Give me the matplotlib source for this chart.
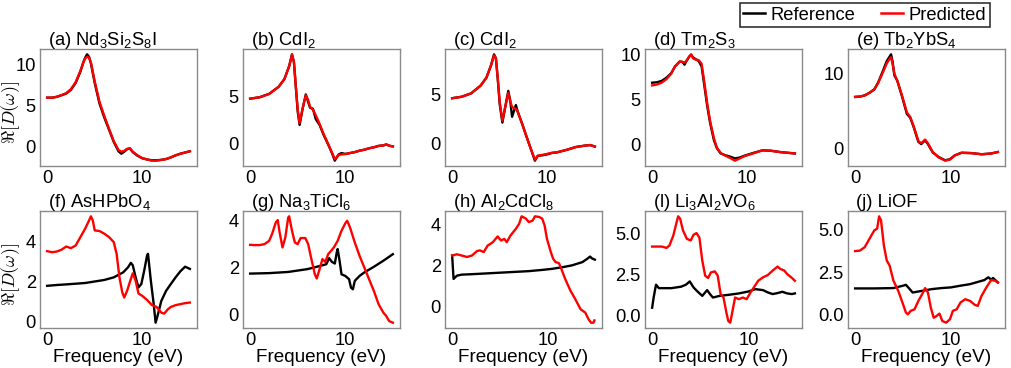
import matplotlib
matplotlib.use("Agg")
import matplotlib.pyplot as plt
from matplotlib.lines import Line2D

plt.rcParams["font.family"] = ["Liberation Sans", "DejaVu Sans"]
plt.rcParams["mathtext.fontset"] = "custom"
plt.rcParams["mathtext.rm"] = "Liberation Sans"
plt.rcParams["mathtext.it"] = "Liberation Sans:italic"
plt.rcParams["mathtext.bf"] = "Liberation Sans:bold"

# ---------------- data ----------------
TITLES = [r"(a) Nd$_3$Si$_2$S$_8$I", r"(b) CdI$_2$", r"(c) CdI$_2$", r"(d) Tm$_2$S$_3$",
          r"(e) Tb$_2$YbS$_4$", r"(f) AsHPbO$_4$", r"(g) Na$_3$TiCl$_6$", r"(h) Al$_2$CdCl$_8$",
          r"(l) Li$_3$Al$_2$VO$_6$", r"(j) LiOF"]
XTICKS = [0, 10]
YTICKS = [[0, 5, 10], [0, 5], [0, 5], [0, 5, 10], [0, 10],
          [0, 2, 4], [0, 2, 4], [0, 2, 4], [0.0, 2.5, 5.0], [0.0, 2.5, 5.0]]
YTICKLABELS = [["0", "5", "10"], ["0", "5"], ["0", "5"], ["0", "5", "10"], ["0", "10"],
               ["0", "2", "4"], ["0", "2", "4"], ["0", "2", "4"],
               ["0.0", "2.5", "5.0"], ["0.0", "2.5", "5.0"]]

A_X = [0, 0.5, 1, 1.5, 2, 2.5, 3, 3.5, 3.8, 4.0, 4.2, 4.4, 4.6, 5.0, 5.5, 6.0, 6.5, 7.0, 7.5, 7.8,
       8.1, 8.4, 8.7, 9.0, 9.5, 10, 10.5, 11, 11.5, 12, 12.5, 13, 13.5, 14, 14.5, 15]
A_REF = [6.0, 6.0, 6.1, 6.3, 6.5, 6.95, 7.8, 9.2, 10.3, 10.9, 11.3, 11.0, 10.2, 7.8, 5.3, 3.6, 2.1,
         0.6, -0.55, -0.85, -0.6, -0.3, -0.2, -0.65, -1.1, -1.4, -1.55, -1.65, -1.65, -1.6, -1.5,
         -1.3, -1.05, -0.85, -0.7, -0.55]
A_PRED = [6.0, 6.0, 6.1, 6.3, 6.55, 7.05, 7.9, 9.3, 10.3, 10.8, 11.0, 10.9, 10.3, 8.0, 5.5, 3.8,
          2.2, 0.7, -0.4, -0.6, -0.5, -0.25, -0.2, -0.6, -1.05, -1.4, -1.55, -1.7, -1.7, -1.6,
          -1.5, -1.3, -1.05, -0.85, -0.7, -0.55]

B_X = [0, 1, 2, 3, 3.6, 4.1, 4.4, 4.6, 4.8, 5.0, 5.2, 5.5, 5.85, 6.1, 6.3, 6.6, 6.9, 7.3, 7.7,
       8.2, 8.6, 8.9, 9.1, 9.3, 9.6, 10, 10.5, 11, 11.5, 12, 12.5, 13, 13.5, 14, 14.3, 14.7, 15]
B_REF = [4.75, 4.9, 5.25, 6.0, 6.8, 8.15, 9.4, 8.6, 6.0, 3.4, 2.0, 3.6, 5.2, 4.4, 3.8, 3.7, 2.6,
         2.0, 1.0, -0.05, -0.95, -1.75, -1.4, -1.1, -0.95, -1.05, -0.95, -0.85, -0.7, -0.6,
         -0.45, -0.35, -0.2, -0.15, -0.05, -0.2, -0.25]
B_PRED = [4.75, 4.9, 5.25, 6.0, 6.8, 8.15, 9.35, 8.6, 6.1, 3.6, 2.2, 3.7, 5.1, 4.6, 3.9, 3.6,
          3.0, 2.1, 1.1, 0.0, -0.9, -1.6, -1.4, -1.15, -1.1, -1.05, -0.95, -0.85, -0.7, -0.6,
          -0.45, -0.35, -0.2, -0.15, -0.05, -0.2, -0.25]

C_X = [0, 1, 2, 3, 3.6, 4.1, 4.4, 4.6, 4.8, 5.0, 5.28, 5.6, 5.9, 6.1, 6.3, 6.5, 6.7, 6.9, 7.35,
       7.7, 8.2, 8.7, 9.0, 9.5, 10, 10.5, 11, 12, 13, 14, 14.5, 15]
C_REF = [4.6, 4.75, 5.1, 5.9, 6.7, 8.0, 9.1, 8.7, 6.5, 4.0, 2.1, 3.8, 5.35, 4.4, 2.7, 3.3, 3.9,
         3.2, 2.0, 1.0, -0.4, -1.8, -1.3, -1.25, -1.15, -1.0, -0.95, -0.7, -0.4, -0.25, -0.2,
         -0.35]
C_PRED = [4.6, 4.75, 5.1, 5.9, 6.7, 8.0, 9.0, 8.7, 6.6, 4.2, 2.3, 3.8, 5.15, 4.3, 3.7, 3.6, 3.5,
          3.2, 2.0, 1.0, -0.4, -1.7, -1.3, -1.2, -1.1, -1.0, -0.95, -0.7, -0.4, -0.25, -0.2,
          -0.35]

D_X = [0, 0.5, 1.0, 1.5, 2.0, 2.4, 2.9, 3.2, 3.4, 3.6, 3.9, 4.1, 4.3, 4.6, 4.9, 5.2, 5.45, 5.8,
       6.1, 6.5, 6.8, 7.2, 7.7, 8.2, 8.7, 9.2, 9.7, 10.6, 11.6, 12.5, 13.5, 14.5, 15]
D_REF = [6.9, 6.95, 7.1, 7.45, 7.95, 8.7, 9.25, 9.2, 8.9, 9.3, 9.8, 10.0, 9.7, 9.5, 9.3, 8.7,
         6.85, 4.25, 2.4, 0.5, -0.35, -0.95, -1.15, -1.3, -1.5, -1.4, -1.2, -0.9, -0.6, -0.65,
         -0.8, -0.9, -0.95]
D_PRED = [6.6, 6.7, 6.9, 7.3, 7.9, 8.7, 9.25, 9.2, 9.15, 9.3, 9.8, 10.05, 9.6, 9.45, 9.4, 9.0,
          7.2, 4.5, 2.6, 0.7, -0.3, -0.9, -1.2, -1.45, -1.75, -1.5, -1.25, -0.95, -0.6, -0.65,
          -0.8, -0.9, -0.95]

E_X = [0, 0.5, 1, 1.5, 2, 2.4, 2.9, 3.3, 3.6, 3.75, 3.9, 4.1, 4.4, 4.9, 5.4, 5.75, 6.1, 6.6,
       6.9, 7.3, 7.6, 8.1, 8.7, 9.4, 9.9, 10.4, 11.1, 12.2, 13.2, 14.2, 14.9]
E_REF = [6.85, 6.9, 7.05, 7.4, 7.85, 8.75, 10.3, 11.6, 12.2, 12.5, 11.6, 9.7, 9.0, 6.9, 4.6,
         4.1, 2.9, 0.9, 0.6, 1.1, 0.6, -0.5, -1.1, -1.55, -1.4, -0.9, -0.55, -0.6, -0.75, -0.65,
         -0.45]
E_PRED = [6.85, 6.9, 7.05, 7.4, 7.85, 8.7, 10.1, 11.3, 11.9, 12.1, 11.3, 9.9, 9.0, 7.0, 4.8,
          4.2, 3.0, 1.0, 0.7, 1.2, 0.7, -0.45, -1.15, -1.6, -1.45, -0.9, -0.55, -0.6, -0.75,
          -0.65, -0.45]

F_REF_X = [0, 1, 2, 4, 6, 7, 8, 8.5, 8.8, 9.0, 9.3, 9.6, 9.9, 10.2, 10.5, 10.6, 10.9, 11.2, 11.4,
           11.6, 12, 12.5, 13, 13.5, 14, 14.5, 15]
F_REF = [1.78, 1.82, 1.85, 1.92, 2.07, 2.2, 2.45, 2.7, 2.92, 2.8, 2.2, 1.7, 1.87, 2.53, 3.28,
         3.37, 2.03, 0.87, -0.05, 0.28, 1.03, 1.53, 1.87, 2.2, 2.5, 2.73, 2.62]
F_PRED_X = [0, 0.5, 1, 1.5, 2, 2.5, 3, 3.5, 4, 4.5, 4.6, 4.8, 5, 5.5, 6, 6.5, 7, 7.3, 7.6, 7.9,
            8.1, 8.4, 8.8, 9, 9.3, 9.6, 10, 10.5, 11, 11.5, 12, 12.3, 12.7, 13, 13.5, 14, 14.5,
            15]
F_PRED = [3.5, 3.45, 3.48, 3.57, 3.73, 3.65, 3.78, 4.2, 4.62, 5.12, 5.23, 5.03, 4.53, 4.5,
          4.37, 4.2, 3.95, 3.37, 2.2, 1.45, 1.2, 1.53, 2.12, 2.4, 2.03, 1.4, 1.28, 1.08, 0.83,
          0.73, 0.45, 0.4, 0.62, 0.73, 0.82, 0.87, 0.92, 0.95]

G_REF_X = [0, 2, 4, 6, 7, 8, 8.3, 8.6, 8.9, 9.1, 9.2, 9.4, 9.6, 10, 10.4, 10.6, 10.8, 11, 11.5,
           12, 13, 14, 15]
G_REF = [1.74, 1.76, 1.81, 1.93, 2.03, 2.14, 2.4, 2.24, 2.17, 2.64, 2.79, 2.29, 1.71, 1.64,
         1.5, 1.14, 1.07, 1.43, 1.64, 1.79, 2.03, 2.29, 2.57]
G_PRED_X = [0, 0.5, 1, 1.5, 2, 2.3, 2.7, 2.9, 3.1, 3.4, 3.7, 4.0, 4.1, 4.4, 4.7, 5.0, 5.3, 5.8,
            6.1, 6.4, 6.8, 7.0, 7.3, 7.6, 7.9, 8.2, 8.5, 8.8, 9.2, 9.6, 10.0, 10.2, 10.5, 11,
            11.5, 12, 12.5, 13, 13.5, 14, 14.3, 14.6, 15]
G_PRED = [2.97, 2.96, 2.96, 3.0, 3.14, 3.43, 3.93, 4.03, 3.5, 2.86, 3.29, 4.14, 4.19, 3.57,
          3.07, 3.0, 3.26, 3.26, 3.0, 2.43, 1.71, 1.53, 1.93, 2.36, 2.24, 2.57, 2.71, 2.86,
          3.14, 3.57, 3.89, 4.0, 3.71, 3.07, 2.5, 2.0, 1.5, 1.0, 0.43, 0.07, -0.07, -0.29,
          -0.36]

H_REF_X = [0, 0.15, 0.5, 1, 2, 4, 6, 8, 9.4, 10.4, 11.5, 12.5, 13.6, 14.1, 14.4, 14.6, 14.9]
H_REF = [2.5, 1.36, 1.52, 1.57, 1.59, 1.64, 1.69, 1.74, 1.8, 1.85, 1.93, 2.02, 2.18, 2.34,
         2.45, 2.36, 2.3]
H_PRED_X = [0, 0.5, 1.0, 1.55, 2.07, 2.6, 2.9, 3.3, 3.7, 4.25, 4.75, 5.1, 5.45, 5.7, 6.1, 6.65,
            7.0, 7.25, 7.7, 8.0, 8.4, 8.65, 9.07, 9.4, 9.65, 9.9, 10.3, 10.55, 10.8, 11.15,
            11.4, 11.8, 12.35, 12.85, 13.4, 13.9, 14.25, 14.5, 14.75, 14.85]
H_PRED = [2.5, 2.56, 2.5, 2.43, 2.5, 2.72, 2.75, 2.67, 2.98, 3.15, 3.43, 3.23, 3.31, 3.15,
          3.48, 3.8, 4.05, 4.41, 4.3, 4.13, 4.2, 4.41, 4.38, 4.3, 3.97, 3.31, 2.67, 2.34, 2.18,
          2.13, 1.85, 1.36, 0.79, 0.38, -0.11, -0.28, -0.61, -0.77, -0.77, -0.66]

I_REF_X = [0, 0.15, 0.4, 0.7, 1, 2, 3, 3.5, 3.9, 4.3, 4.7, 5.2, 5.5, 5.7, 6.0, 6.3, 7, 8, 9, 10,
           10.7, 11.5, 12, 12.5, 13, 13.5, 14, 14.5, 14.8]
I_REF = [0.5, 1.1, 1.9, 1.69, 1.69, 1.69, 1.78, 1.9, 2.1, 1.73, 1.49, 1.22, 1.43, 1.57, 1.33,
         1.12, 1.22, 1.29, 1.37, 1.49, 1.63, 1.57, 1.43, 1.33, 1.39, 1.47, 1.37, 1.33, 1.37]
I_PRED_X = [0, 0.5, 1, 1.5, 1.8, 2.2, 2.5, 2.7, 2.9, 3.2, 3.6, 4.0, 4.3, 4.6, 4.9, 5.2, 5.5,
            5.8, 6.1, 6.5, 6.8, 7.1, 7.4, 7.7, 7.9, 8.1, 8.3, 8.6, 9.0, 9.4, 9.8, 10.2, 10.6,
            11, 11.5, 12, 12.5, 13, 13.3, 13.7, 14, 14.5, 14.8]
I_PRED = [4.22, 4.22, 4.22, 4.14, 4.29, 4.9, 5.61, 6.06, 5.92, 5.2, 4.69, 4.59, 4.94, 5.04,
          4.76, 3.37, 2.45, 2.31, 2.65, 2.71, 2.45, 1.33, 1.12, 0.2, -0.31, -0.41, 0.2, 1.12,
          1.02, 1.12, 1.02, 1.43, 1.78, 2.14, 2.35, 2.49, 2.76, 3.0, 2.86, 2.76, 2.55, 2.31,
          2.14]

J_REF_X = [0, 2, 4, 5, 5.3, 5.7, 6, 7, 8, 9, 10, 11, 12, 13, 13.5, 13.9, 14.2, 14.4, 14.7, 14.9]
J_REF = [1.55, 1.55, 1.57, 1.71, 1.76, 1.51, 1.31, 1.41, 1.51, 1.57, 1.61, 1.71, 1.8, 1.96,
         2.04, 2.2, 2.06, 2.16, 2.0, 1.9]
J_PRED_X = [0, 0.5, 1, 1.5, 2, 2.3, 2.5, 2.7, 3, 3.3, 3.6, 4, 4.5, 5, 5.3, 5.5, 5.8, 6.2, 6.6, 7,
            7.3, 7.6, 7.9, 8.2, 8.5, 8.8, 9.1, 9.5, 9.9, 10.2, 10.6, 11, 11.5, 12, 12.5, 12.8,
            13.2, 13.7, 14.2, 14.6, 14.9]
J_PRED = [3.73, 3.76, 3.96, 4.45, 4.94, 5.04, 5.76, 5.53, 4.06, 3.18, 2.88, 2.0, 1.41, 0.63,
          0.14, 0.04, 0.24, 0.33, 0.82, 1.22, 1.57, 1.31, 0.43, -0.16, -0.06, 0.08, -0.35,
          -0.45, -0.25, 0.24, 0.33, 0.73, 0.92, 0.82, 0.59, 0.53, 1.12, 1.61, 2.04, 2.0, 1.9]

PANELS = [
    (A_X, A_REF, A_X, A_PRED), (B_X, B_REF, B_X, B_PRED), (C_X, C_REF, C_X, C_PRED),
    (D_X, D_REF, D_X, D_PRED), (E_X, E_REF, E_X, E_PRED),
    (F_REF_X, F_REF, F_PRED_X, F_PRED), (G_REF_X, G_REF, G_PRED_X, G_PRED),
    (H_REF_X, H_REF, H_PRED_X, H_PRED), (I_REF_X, I_REF, I_PRED_X, I_PRED),
    (J_REF_X, J_REF, J_PRED_X, J_PRED),
]

# ---------------- figure ----------------
W, H = 1011, 368
fig = plt.figure(figsize=(W / 100, H / 100), dpi=100)

col_left = [40, 243, 445, 645, 848]
row_top = [49, 211]
ax_w, ax_h = 157, 117
SPINE = "#8a8a8a"
FS = 13.2

for i, (rx, ry, px, py) in enumerate(PANELS):
    r, c = divmod(i, 5)
    l = col_left[c] / W
    b = 1 - (row_top[r] + ax_h) / H
    ax = fig.add_axes([l, b, ax_w / W, ax_h / H])
    ax.plot(rx, ry, color="black", lw=1.7)
    ax.plot(px, py, color="red", lw=1.7)
    ax.set_xticks(XTICKS)
    ax.set_yticks(YTICKS[i])
    ax.set_yticklabels(YTICKLABELS[i])
    ax.tick_params(length=0, labelsize=FS, pad=3)
    for s in ax.spines.values():
        s.set_color(SPINE)
        s.set_linewidth(1.0)
    ax.text(0.05, 1.03, TITLES[i], transform=ax.transAxes, ha="left", va="baseline",
            fontsize=FS)
    if c == 0:
        ax.set_ylabel(r"$\Re[D(\omega)]$", fontsize=13, math_fontfamily="cm")
        ax.yaxis.set_label_coords(-0.115, 0.46)
    if r == 1:
        ax.set_xlabel("Frequency (eV)", fontsize=13.6, labelpad=0)

handles = [Line2D([], [], color="black", lw=1.8), Line2D([], [], color="red", lw=1.8)]
leg = fig.legend(handles, ["Reference", "Predicted"], loc="upper right",
                 bbox_to_anchor=(990 / W, 1 - 3 / H), ncol=2, fontsize=FS,
                 frameon=True, fancybox=False, handlelength=1.2, handletextpad=0.3,
                 columnspacing=1.4, borderpad=0.2, borderaxespad=0)
leg.get_frame().set_edgecolor("black")
leg.get_frame().set_linewidth(1.2)

fig.savefig("out.png", dpi=100)
